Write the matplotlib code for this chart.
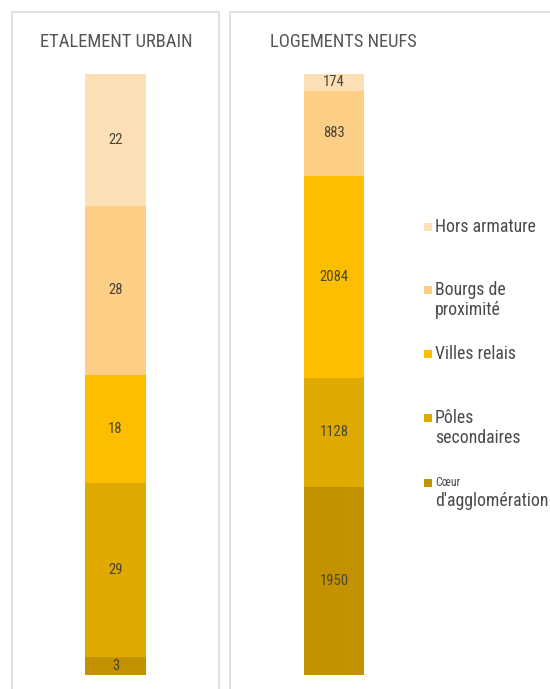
import matplotlib
matplotlib.use("Agg")
import matplotlib.pyplot as plt
from matplotlib.patches import Rectangle
from matplotlib import font_manager

categories = ["Cœur d'agglomération", "Pôles secondaires", "Villes relais",
              "Bourgs de proximité", "Hors armature"]
etalement = [3, 29, 18, 28, 22]
logements = [1950, 1128, 2084, 883, 174]
colors = ["#C39200", "#E0A900", "#FDBE00", "#FDCE85", "#FDE0B5"]
titles = ["ETALEMENT URBAIN", "LOGEMENTS NEUFS"]
legend_lines = [["d'agglomération"], ["Pôles", "secondaires"], ["Villes relais"],
                ["Bourgs de", "proximité"], ["Hors armature"]]

avail = {f.name for f in font_manager.fontManager.ttflist}
fam = [f for f in ["Liberation Sans Narrow", "Roboto Condensed", "Roboto", "DejaVu Sans"] if f in avail]
plt.rcParams['font.family'] = fam

W, H = 550, 689
fig = plt.figure(figsize=(W / 100, H / 100), dpi=100)

def fx(x): return x / W
def fy(y): return 1 - y / H

# panel borders
border = "#DADADA"
fig.patches.append(Rectangle((fx(12), fy(700)), fx(219) - fx(12), fy(12) - fy(700),
                             transform=fig.transFigure, fill=False, ec=border, lw=1.2))
fig.patches.append(Rectangle((fx(230), fy(700)), fx(560) - fx(230), fy(12) - fy(700),
                             transform=fig.transFigure, fill=False, ec=border, lw=1.2))

def stack(ax, vals, fontsize):
    bottom = 0
    for v, c in zip(vals, colors):
        ax.bar(0, v, bottom=bottom, width=1, color=c, edgecolor='none')
        ax.text(0, bottom + v / 2, str(v), ha='center', va='center',
                fontsize=fontsize, color='#4A4538')
        bottom += v
    ax.set_xlim(-0.5, 0.5)
    ax.set_ylim(0, bottom)
    ax.axis('off')

ax1 = fig.add_axes([fx(85), fy(675), fx(146) - fx(85), fy(74) - fy(675)])
stack(ax1, etalement, 10.5)
ax2 = fig.add_axes([fx(304), fy(675), fx(364) - fx(304), fy(74) - fy(675)])
stack(ax2, logements, 10.5)

fig.text(fx(116.5), fy(42), titles[0], ha='center', va='center', fontsize=13.3, color='#555555')
fig.text(fx(343), fy(42), titles[1], ha='center', va='center', fontsize=13.3, color='#555555')

# legend (top to bottom)
leg_y = {4: 227, 3: 290, 2: 354, 1: 418, 0: 483}
for i in [4, 3, 2, 1, 0]:
    y = leg_y[i]
    fig.patches.append(Rectangle((fx(424), fy(y + 4)), fx(8), 8 / H,
                                 transform=fig.transFigure, color=colors[i], ec='none'))
    if i == 0:
        fig.text(fx(435), fy(y), "Cœur", ha='left', va='center', fontsize=8.5, color='#4A4A4A')
        fig.text(fx(435), fy(501), legend_lines[0][0], ha='left', va='center',
                 fontsize=12.8, color='#4A4A4A')
    else:
        for k, line in enumerate(legend_lines[i]):
            fig.text(fx(435), fy(y + 20 * k), line, ha='left', va='center',
                     fontsize=12.8, color='#4A4A4A')

fig.savefig("out.png", dpi=100, facecolor='white')
